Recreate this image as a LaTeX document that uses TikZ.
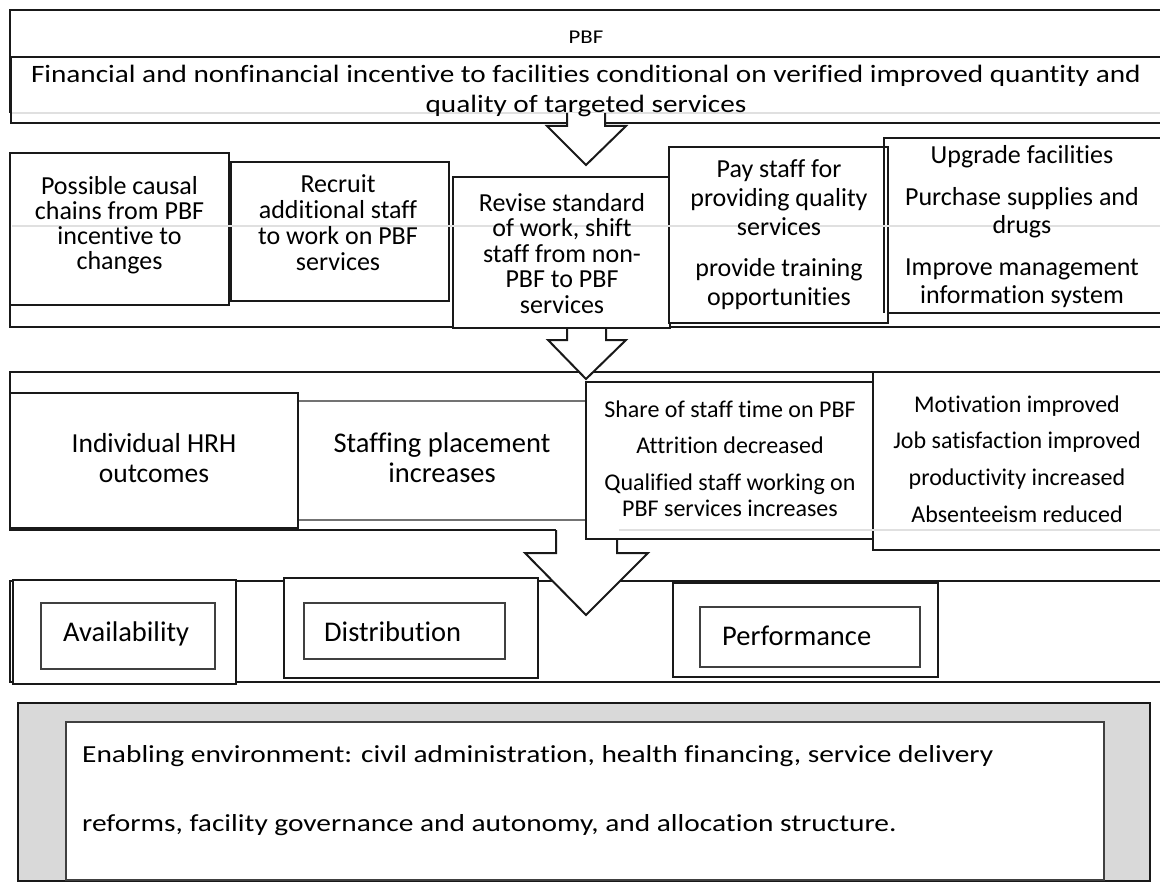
\documentclass[tikz,border=0pt]{standalone}
\usepackage{fontspec}
\setmainfont{Carlito}[Ligatures=NoCommon]
\newfontfamily\wideT[FakeStretch=1.17,Ligatures=NoCommon]{Carlito}
\newfontfamily\wideB[FakeStretch=1.2,Ligatures=NoCommon]{Carlito}
\newcommand\mkbox[6]{\node[#6, minimum width={(#4-#2)*1pt}, minimum height={(#5-#3)*1pt}] (#1) at ({(#2+#4)/2},{(#3+#5)/2}) {};}
\begin{document}
\begin{tikzpicture}[x=1pt,y=-1pt,
  bx/.style={draw=black!90, line width=2.2pt, fill=white, inner sep=0pt, outer sep=0pt},
  gbx/.style={draw=black!55, line width=1.8pt, fill=white, inner sep=0pt, outer sep=0pt},
  tbx/.style={draw=black!75, line width=1.1pt, fill=white, inner sep=0pt, outer sep=0pt},
  envbox/.style={draw=black!90, line width=2.4pt, fill=gray!30, inner sep=0pt, outer sep=0pt},
  faint/.style={draw=black!12, line width=1.6pt},
  arrline/.style={draw=black!90, line width=2pt, line join=miter},
  lbl/.style={inner sep=0pt, align=center, text=black}]
\useasboundingbox (0,0) rectangle (1160,888);
\clip (0,0) rectangle (1160,888);
\fill[white] (0,0) rectangle (1160,888);

% ---- row 1
\mkbox{t1}{10}{10}{1175}{112}{bx}
\mkbox{t2}{11}{57}{1175}{123}{bx}
\draw[faint] (12,113) -- (1160,113);
\fill[white] (567,113) -- (567,126) -- (547,126) -- (586,165) -- (626,126) -- (605,126) -- (605,113) -- cycle;
\draw[arrline] (567,113) -- (567,126) -- (547,126) -- (586,165) -- (626,126) -- (605,126) -- (605,113);
\node[lbl, font=\wideT\fontsize{19.5}{23}\selectfont, anchor=base] (pbf) at (586,44) {PBF};
\node[lbl, font=\wideT\fontsize{25}{30}\selectfont] (incentive) at (586,90.5) {Financial and nonfinancial incentive to facilities conditional on verified improved quantity and\\quality of targeted services};

% ---- row 2
\mkbox{r2}{10}{226}{1175}{327}{bx}
\mkbox{b1}{10}{153}{229}{305}{bx}
\mkbox{b2}{231}{162}{449}{301}{bx}
\mkbox{b3}{453}{177}{670}{328}{bx}
\mkbox{b5}{884}{138}{1175}{313}{bx}
\mkbox{b4}{669}{147}{888}{323}{bx}
\draw[draw=black!90, line width=2.2pt] (b5.north west) -- (b5.south west);
\draw[faint] (12,226) -- (1160,226);
\node[lbl, font=\fontsize{26}{25}\selectfont] (b1t) at (119.5,225) {Possible causal\\chains from PBF\\incentive to\\changes};
\node[lbl, font=\fontsize{26}{26}\selectfont] (b2t) at (338,222.5) {Recruit\\additional staff\\to work on PBF\\services};
\node[lbl, font=\fontsize{26}{25.5}\selectfont] (b3t) at (562,253.5) {Revise standard\\of work, shift\\staff from non-\\PBF to PBF\\services};
\node[lbl, font=\fontsize{26}{29}\selectfont] (b4t) at (779,235) {Pay staff for\\providing quality\\services\\[12pt]provide training\\opportunities};
\node[lbl, font=\fontsize{26}{28}\selectfont] (b5t) at (1022,226.5) {Upgrade facilities\\[14pt]Purchase supplies and\\drugs\\[14pt]Improve management\\information system};

% ---- row 3 and row 4 frames
\mkbox{r3}{10}{372}{1175}{530}{bx}
\mkbox{r4}{10}{581}{1175}{682}{bx}
\fill[white] (556,527) -- (556,553) -- (525,553) -- (586,615) -- (648,553) -- (617,553) -- (617,527) -- cycle;
\draw[arrline] (556,530) -- (556,553) -- (525,553) -- (586,615) -- (648,553) -- (617,553) -- (617,530);
\mkbox{c2}{298}{401}{586}{520}{gbx}
\mkbox{c1}{10}{393}{298}{528}{bx}
\mkbox{c3}{586}{382}{873}{539}{bx}
\mkbox{c4}{873}{372}{1175}{550}{bx}
\draw[faint] (619,530) -- (1160,530);
\fill[white] (567,330) -- (567,340) -- (548,340) -- (586,379) -- (626,340) -- (606,340) -- (606,330) -- cycle;
\draw[arrline] (567,328) -- (567,340) -- (548,340) -- (586,379) -- (626,340) -- (606,340) -- (606,328);
\node[lbl, font=\fontsize{27.5}{30}\selectfont] (c1t) at (154,458.3) {Individual HRH\\outcomes};
\node[lbl, font=\fontsize{28.5}{30}\selectfont] (c2t) at (442,458) {Staffing placement\\increases};
\node[lbl, font=\fontsize{24}{26}\selectfont] (c3t) at (730,459) {Share of staff time on PBF\\[10pt]Attrition decreased\\[11pt]Qualified staff working on\\PBF services increases};
\node[lbl, font=\fontsize{24}{36.7}\selectfont] (c4t) at (1017,459) {Motivation improved\\Job satisfaction improved\\productivity increased\\Absenteeism reduced};

% ---- row 4
\mkbox{a1}{13}{580}{236}{684}{bx}
\mkbox{a2}{41}{603}{215}{669}{tbx}
\mkbox{d1}{284}{578}{538}{678}{bx}
\mkbox{d2}{304}{603}{505}{659}{tbx}
\mkbox{p1}{673}{583}{938}{677}{bx}
\mkbox{p2}{700}{607}{920}{667}{tbx}
\node[lbl, font=\fontsize{28.5}{30}\selectfont, anchor=base west] (avt) at (63,641.7) {Availability};
\node[lbl, font=\fontsize{28.5}{30}\selectfont, anchor=base west] (dit) at (324,641.7) {Distribution};
\node[lbl, font=\fontsize{28.5}{30}\selectfont, anchor=base west] (pet) at (722,645) {Performance};

% ---- row 5
\mkbox{e1}{18}{703}{1150}{881}{envbox}
\mkbox{e2}{66}{722}{1104}{880}{tbx}
\node[lbl, align=left, anchor=west, font=\wideB\fontsize{24.5}{69}\selectfont] (env) at (82,790.4) {Enabling environment: civil administration, health financing, service delivery\\reforms, facility governance and autonomy, and allocation structure.};
\end{tikzpicture}
\end{document}
